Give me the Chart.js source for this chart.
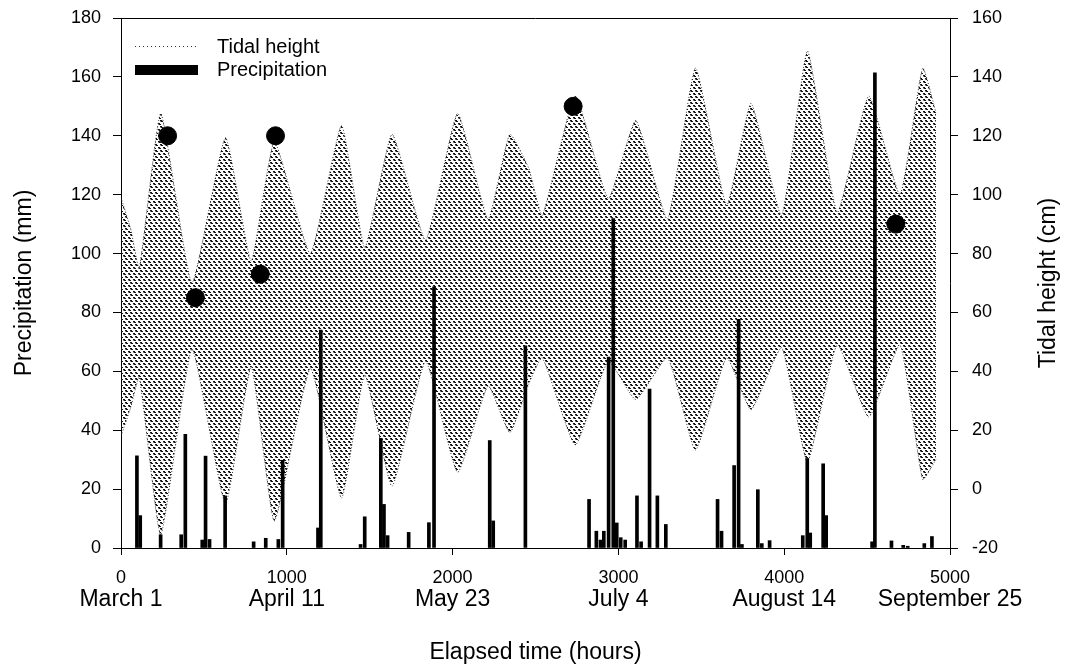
<!DOCTYPE html>
<html>
<head>
<meta charset="utf-8">
<title>Precipitation and tidal height</title>
<script src="https://cdn.jsdelivr.net/npm/chart.js@4.4.1/dist/chart.umd.min.js"></script>
<style>
  html, body { margin: 0; padding: 0; background: #fff; }
</style>
</head>
<body>
<canvas id="myChart" width="1070" height="671"></canvas>
<script>
// envelope of the tidal record (cm), read at neap necks and spring peaks
const tideHours = [0, 60, 110, 240, 428, 630, 785, 925, 1142, 1330, 1470, 1635, 1837, 2030, 2214, 2345,
  2459, 2541, 2740, 2939, 3105, 3296, 3465, 3653, 3800, 3984, 4140, 4320, 4510, 4698, 4835, 4915];
const tideHigh = [99, 88, 75, 127.6, 70, 119.4, 77.5, 118, 80, 123.5, 82, 120.5, 84.6, 127.6, 91.7, 120.5,
  109, 93, 133.5, 98.7, 125.2, 91.7, 143, 96.4, 131, 92.9, 148.8, 94, 133.5, 100, 143, 128];
const tideLow = [18, 28, 38, -15.5, 47.5, -5, 41.6, -10.8, 41, -3, 38.7, 1, 43.4, 5.7, 35, 19.2,
  35.7, 44.6, 15, 43.4, 30.4, 44.6, 13.3, 44.6, 27, 48, 9.2, 49, 24.5, 49, 3.3, 10];

// precipitation events (mm)
const rainHours = [96, 116, 239, 363, 388, 490, 510, 534, 628, 800, 873, 949, 975, 1188, 1205,
  1445, 1470, 1567, 1586, 1608, 1735, 1857, 1888, 2224, 2245, 2439,
  2823, 2867, 2892, 2912, 2941, 2969, 2990, 3014, 3041, 3112, 3137, 3188, 3235, 3286,
  3598, 3622, 3698, 3725, 3745, 3841, 3865, 3912, 4112, 4139, 4157, 4235, 4253,
  4530, 4547, 4647, 4718, 4745, 4845, 4891];
const rainMm = [31.3, 11, 4.5, 4.5, 38.6, 2.7, 31.2, 2.9, 17.7, 2.1, 3.3, 2.9, 29.8, 6.8, 74,
  1.2, 10.6, 37.2, 14.8, 4.2, 5.3, 8.6, 88.7, 36.5, 9.2, 68.7,
  16.5, 5.7, 2.7, 5.7, 64.8, 111.9, 8.5, 3.5, 2.7, 17.7, 2.1, 54, 17.7, 8,
  16.5, 5.7, 28, 77.7, 1.2, 19.8, 1.5, 2.5, 4.2, 30.4, 5.1, 28.6, 11,
  2.1, 161.4, 2.4, 0.9, 0.6, 1.5, 3.9];

// black dots
const dotHours = [281, 449, 840, 932, 2727, 4673];
const dotMm = [140, 85, 93, 140, 150, 110];

const hourTicks = [0, 1000, 2000, 3000, 4000, 5000];
const monthLabels = ["March 1", "April 11", "May 23", "July 4", "August 14", "September 25"];

const FONT = "'Liberation Sans', Arial, Helvetica, sans-serif";
Chart.defaults.font.family = FONT;
Chart.defaults.color = "#000";

const canvas = document.getElementById("myChart");
const ctx = canvas.getContext("2d");

// texture standing in for the dense dotted tidal trace
function makeTidePattern() {
  const rows = [
    "##...##...",
    "+##..+##..",
    "..........",
    "...##...##",
    "#..+##..+#",
    "..........",
  ];
  const tile = document.createElement("canvas");
  tile.width = rows[0].length;
  tile.height = rows.length;
  const g = tile.getContext("2d");
  rows.forEach((row, y) => {
    [...row].forEach((ch, x) => {
      if (ch === ".") return;
      g.fillStyle = ch === "#" ? "#141414" : "#8a8a8a";
      g.fillRect(x, y, 1, 1);
    });
  });
  return ctx.createPattern(tile, "repeat");
}

const toPoints = (xs, ys) => xs.map((x, i) => ({ x: x, y: ys[i] }));
const fixedTicks = (s) => { s.ticks = hourTicks.map((v) => ({ value: v })); };

const frameAndLegend = {
  id: "frameAndLegend",
  afterDraw(chart) {
    const c = chart.ctx;
    const a = chart.chartArea;
    c.save();
    c.strokeStyle = "#000";
    c.lineWidth = 1;
    c.beginPath();
    c.moveTo(a.left, a.top + 0.5);
    c.lineTo(a.right, a.top + 0.5);
    c.stroke();

    // legend
    c.setLineDash([1, 3]);
    c.strokeStyle = "#333";
    c.beginPath();
    c.moveTo(135, 46.5);
    c.lineTo(198, 46.5);
    c.stroke();
    c.setLineDash([]);
    c.fillStyle = "#000";
    c.fillRect(135, 65, 63, 10);
    c.font = "20px " + FONT;
    c.textBaseline = "middle";
    c.textAlign = "left";
    c.fillText("Tidal height", 217, 47);
    c.fillText("Precipitation", 217, 70);

    // right axis title reads bottom to top like the left one
    c.translate(1049, (a.top + a.bottom) / 2);
    c.rotate(-Math.PI / 2);
    c.font = "23px " + FONT;
    c.textAlign = "center";
    c.fillText("Tidal height (cm)", 0, 0);
    c.restore();
  },
};

const tickFont = { size: 18 };
const titleFont = { size: 23 };

new Chart(ctx, {
  type: "bar",
  data: {
    datasets: [
      {
        type: "line",
        label: "Tidal high",
        data: toPoints(tideHours, tideHigh),
        yAxisID: "yTide",
        xAxisID: "x",
        borderColor: "#333",
        borderWidth: 1,
        borderDash: [1, 2],
        pointRadius: 0,
        tension: 0.15,
        fill: false,
        order: 3,
      },
      {
        type: "line",
        label: "Tidal height",
        data: toPoints(tideHours, tideLow),
        yAxisID: "yTide",
        xAxisID: "x",
        borderColor: "#333",
        borderWidth: 1,
        borderDash: [1, 2],
        pointRadius: 0,
        tension: 0.15,
        fill: "-1",
        backgroundColor: makeTidePattern(),
        order: 2,
      },
      {
        label: "Precipitation",
        data: toPoints(rainHours, rainMm),
        yAxisID: "y",
        xAxisID: "x",
        backgroundColor: "#000",
        barThickness: 3,
        order: 1,
      },
      {
        type: "scatter",
        label: "Events",
        data: toPoints(dotHours, dotMm),
        yAxisID: "y",
        xAxisID: "x",
        backgroundColor: "#000",
        borderColor: "#000",
        pointRadius: 9,
        order: 0,
      },
    ],
  },
  options: {
    responsive: false,
    devicePixelRatio: 1,
    animation: false,
    layout: { padding: { top: 18, left: 0, right: 0, bottom: 0 } },
    plugins: { legend: { display: false }, tooltip: { enabled: false } },
    scales: {
      x: {
        type: "linear",
        position: "bottom",
        min: 0,
        max: 5000,
        offset: false,
        afterBuildTicks: fixedTicks,
        ticks: { padding: 12, font: tickFont, maxRotation: 0, autoSkip: false, callback: (v) => String(v) },
        grid: { offset: false, drawOnChartArea: false, tickLength: 7, color: "#000" },
        border: { color: "#000", width: 1 },
        afterFit: (s) => { s.height = 38; },
      },
      xMonth: {
        type: "linear",
        position: "bottom",
        min: 0,
        max: 5000,
        offset: false,
        afterBuildTicks: fixedTicks,
        ticks: {
          padding: 0,
          autoSkip: false,
          maxRotation: 0,
          font: titleFont,
          callback: (v) => monthLabels[hourTicks.indexOf(v)],
        },
        grid: { display: false, offset: false, drawTicks: false, tickLength: 0 },
        border: { display: false },
        title: { display: true, text: "Elapsed time (hours)", font: titleFont, padding: { top: 0, bottom: 5 } },
        afterFit: (s) => { s.height = 85; },
      },
      y: {
        position: "left",
        min: 0,
        max: 180,
        ticks: { stepSize: 20, padding: 12, font: tickFont },
        grid: { drawOnChartArea: false, tickLength: 8, color: "#000" },
        border: { color: "#000", width: 1 },
        title: { display: true, text: "Precipitation (mm)", font: titleFont, padding: { top: 11, bottom: 0 } },
        afterFit: (s) => { s.width = 121; s.paddingTop = 0; s.paddingBottom = 0; },
      },
      yTide: {
        position: "right",
        min: -20,
        max: 160,
        ticks: { stepSize: 20, padding: 14, font: tickFont },
        grid: { drawOnChartArea: false, tickLength: 8, color: "#000" },
        border: { color: "#000", width: 1 },
        afterFit: (s) => { s.width = 120; s.paddingTop = 0; s.paddingBottom = 0; },
      },
    },
  },
  plugins: [frameAndLegend],
});
</script>
</body>
</html>
